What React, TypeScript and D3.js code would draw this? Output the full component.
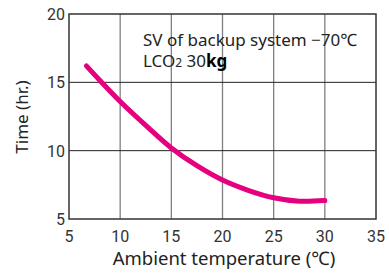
import React, { useEffect, useRef } from "react";
import * as d3 from "d3";

const temps = [6.7, 8, 10, 12.5, 15, 17.5, 20, 22.5, 25, 27.5, 30];
const hours = [16.2, 15.15, 13.6, 11.85, 10.2, 8.9, 7.85, 7.1, 6.55, 6.3, 6.35];
const xTicks = [5, 10, 15, 20, 25, 30, 35];
const yTicks = [5, 10, 15, 20];

export default function App() {
  const ref = useRef<SVGSVGElement>(null);

  useEffect(() => {
    const svg = d3.select(ref.current);
    svg.selectAll("*").remove();
    const font = "'Noto Sans', sans-serif";
    const tickFont = "'Liberation Sans Narrow', 'Roboto', sans-serif";

    const x = d3.scaleLinear().domain([5, 35]).range([69, 376]);
    const y = d3.scaleLinear().domain([5, 20]).range([219, 14]);

    // vertical grid
    svg
      .append("g")
      .selectAll("line")
      .data(xTicks.slice(1, -1))
      .join("line")
      .attr("x1", (d) => x(d))
      .attr("x2", (d) => x(d))
      .attr("y1", y(20))
      .attr("y2", y(5))
      .attr("stroke", "#808080")
      .attr("stroke-width", 1.3);

    // horizontal grid
    svg
      .append("g")
      .selectAll("line")
      .data(yTicks.slice(1, -1))
      .join("line")
      .attr("x1", x(5))
      .attr("x2", x(35))
      .attr("y1", (d) => y(d))
      .attr("y2", (d) => y(d))
      .attr("stroke", "#222")
      .attr("stroke-width", 1);

    svg
      .append("rect")
      .attr("x", x(5))
      .attr("y", y(20))
      .attr("width", x(35) - x(5))
      .attr("height", y(5) - y(20))
      .attr("fill", "none")
      .attr("stroke", "#333")
      .attr("stroke-width", 1.5);

    const note = svg
      .append("text")
      .attr("x", 143)
      .attr("y", 46)
      .attr("font-family", font)
      .attr("font-size", 17)
      .attr("fill", "#222");
    note.append("tspan").text("SV of backup system −70℃");
    const l2 = svg
      .append("text")
      .attr("x", 143)
      .attr("y", 67)
      .attr("font-family", font)
      .attr("font-size", 17)
      .attr("fill", "#222");
    l2.append("tspan").text("LCO");
    l2.append("tspan").attr("font-size", 12).text("2");
    l2.append("tspan").text(" 30");
    l2.append("tspan").attr("font-weight", "bold").attr("fill", "#000").text("kg");

    const line = d3
      .line<number>()
      .x((d, i) => x(temps[i]))
      .y((d) => y(d))
      .curve(d3.curveCatmullRom);

    svg
      .append("path")
      .attr("d", line(hours))
      .attr("fill", "none")
      .attr("stroke", "#e4007f")
      .attr("stroke-width", 5)
      .attr("stroke-linecap", "round");

    svg
      .append("g")
      .selectAll("text")
      .data(xTicks)
      .join("text")
      .attr("x", (d) => x(d))
      .attr("y", 242)
      .attr("text-anchor", "middle")
      .attr("font-family", tickFont)
      .attr("font-size", 16)
      .attr("fill", "#333")
      .text((d) => d);

    svg
      .append("g")
      .selectAll("text")
      .data(yTicks)
      .join("text")
      .attr("x", 65)
      .attr("y", (d) => y(d) + 6)
      .attr("text-anchor", "end")
      .attr("font-family", tickFont)
      .attr("font-size", 16)
      .attr("fill", "#333")
      .text((d) => d);

    svg
      .append("text")
      .attr("x", 224)
      .attr("y", 265)
      .attr("text-anchor", "middle")
      .attr("font-family", font)
      .attr("font-size", 18.5)
      .attr("fill", "#222")
      .text("Ambient temperature (℃)");

    svg
      .append("text")
      .attr("transform", "translate(28,117) rotate(-90)")
      .attr("text-anchor", "middle")
      .attr("font-family", font)
      .attr("font-size", 17)
      .attr("fill", "#222")
      .text("Time (hr.)");
  }, []);

  return (
    <svg
      ref={ref}
      width={389}
      height={273}
      style={{ position: "absolute", left: 0, top: 0, background: "#fff" }}
    />
  );
}
